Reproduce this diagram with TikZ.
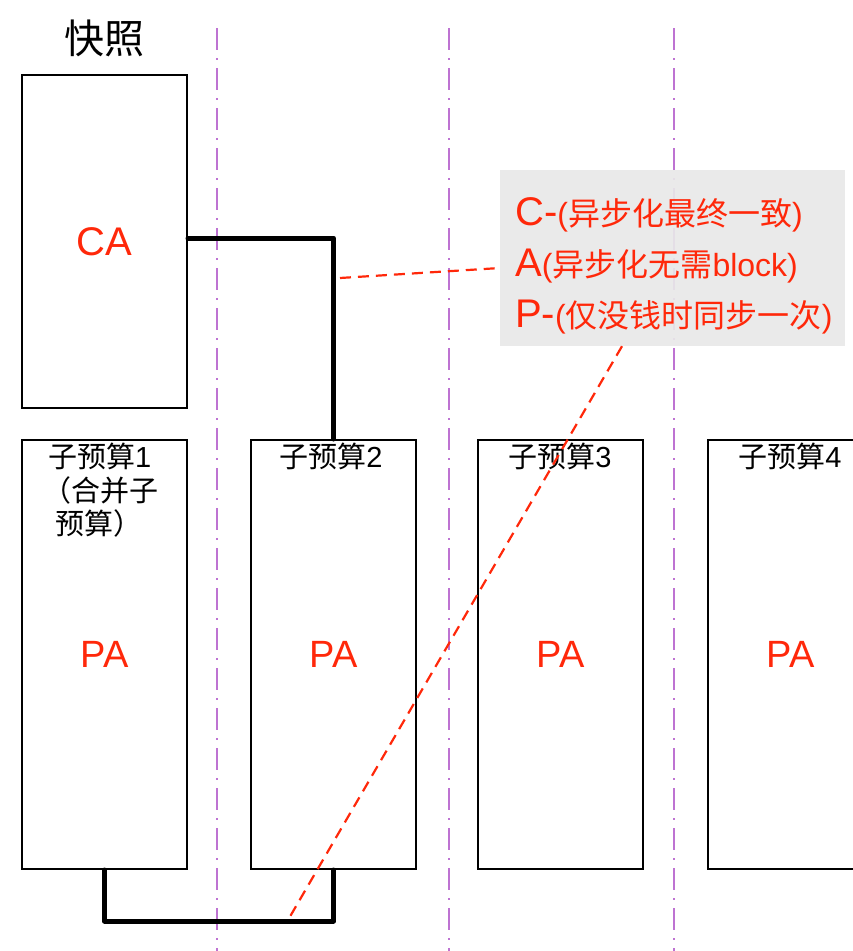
\documentclass[tikz,border=0pt]{standalone}
\usepackage{fontspec}
\setmainfont{Liberation Sans}
\newfontfamily\cjk{Noto Sans CJK SC}
\definecolor{sred}{RGB}{255,40,10}
\definecolor{spurple}{RGB}{190,115,210}
\definecolor{sgray}{RGB}{232,232,232}
\begin{document}
\begin{tikzpicture}[x=1pt,y=-1pt,
  box/.style={draw=black, line width=2pt, minimum width=165pt, inner sep=0pt},
  sep/.style={draw=spurple, line width=1.5pt, dash pattern=on 22pt off 8pt on 2pt off 8pt},
  conn/.style={line width=5pt, line join=round, line cap=round},
  rdash/.style={draw=sred, line width=2.2pt, dash pattern=on 11pt off 7pt},
  bigca/.style={font=\fontsize{40}{48}\selectfont, text=sred},
  bigpa/.style={font=\fontsize{38}{46}\selectfont, text=sred},
  lab/.style={font=\cjk\fontsize{29}{33}\selectfont, inner sep=0pt},
  line/.style={anchor=base west, inner sep=0pt, text=sred},
]
\useasboundingbox (0,0) rectangle (853,951);
\clip (0,0) rectangle (853,951);
% separators
\foreach \x/\n in {217/sa,449/sb,674/sc}{
  \coordinate (\n top) at (\x,28);
  \coordinate (\n bot) at (\x,951);
  \draw[sep] (\n top) -- (\n bot);
}
% snapshot
\node[font=\cjk\fontsize{40}{44}\selectfont] (title) at (104,38) {快照};
\node[box, minimum height=333pt, bigca] (snap) at (104.5,241.5) {CA};
% sub budgets
\node[box, minimum height=429pt, bigpa] (b1) at (104.5,654.5) {PA};
\node[box, minimum height=429pt, bigpa] (b2) at (333.5,654.5) {PA};
\node[box, minimum height=429pt, bigpa] (b3) at (560.5,654.5) {PA};
\node[box, minimum height=429pt, bigpa] (b4) at (790.5,654.5) {PA};
% labels
\node[lab, anchor=west] (l1a) at (48,456) {子预算{\rmfamily 1}};
\node[lab, anchor=west] (l1b) at (42,490) {（合并子};
\node[lab, anchor=west] (l1c) at (55,523) {预算）};
\node[lab] (l2) at (331,456) {子预算{\rmfamily 2}};
\node[lab] (l3) at (560,456) {子预算{\rmfamily 3}};
\node[lab] (l4) at (790,456) {子预算{\rmfamily 4}};
% connectors
\draw[conn] ([yshift=3.5pt]snap.east) -| (b2.north);
\draw[conn] (b1.south) -- ++(0,51) -| (b2.south);
% note
\node[fill=sgray, fill opacity=0.92, minimum width=345pt, minimum height=176pt, inner sep=0pt] (note) at (672.5,258) {};
\node[line] (t1) at (515,225) {\fontsize{40}{48}\selectfont C-\fontsize{32}{36}\selectfont({\cjk 异步化最终一致})};
\node[line] (t2) at (515,276) {\fontsize{40}{48}\selectfont A\fontsize{32}{36}\selectfont({\cjk 异步化无需}block)};
\node[line] (t3) at (515,327) {\fontsize{40}{48}\selectfont P-\fontsize{32}{36}\selectfont({\cjk 仅没钱时同步一次})};
% red dashed
\coordinate (r1) at (340,278);
\draw[rdash] (r1) -- ([yshift=-10pt]note.west);
\coordinate (r2) at (288,920);
\draw[rdash] ([xshift=-50.5pt]note.south) -- (r2);
\end{tikzpicture}
\end{document}
